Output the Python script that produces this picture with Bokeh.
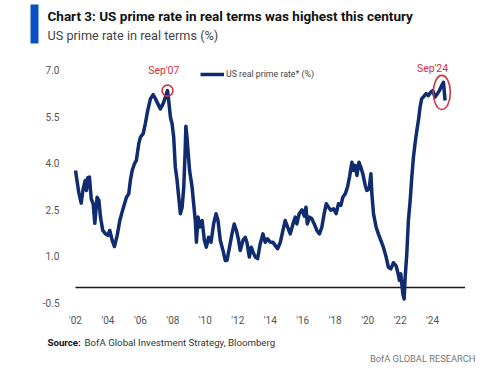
from bokeh.plotting import figure
from bokeh.layouts import column
from bokeh.models import (Label, Legend, LegendItem, FixedTicker, ColumnDataSource, Range1d)
from bokeh.core.properties import value
from bokeh.embed import file_html
from bokeh.resources import INLINE

# ---------------- data ----------------
years = [
    2002.00, 2002.20, 2002.35, 2002.47, 2002.60, 2002.68, 2002.76, 2002.86, 2002.97,
    2003.09, 2003.19, 2003.33, 2003.44, 2003.54, 2003.68, 2003.85, 2003.99,
    2004.11, 2004.26, 2004.40, 2004.57, 2004.73, 2004.87,
    2005.02, 2005.14, 2005.28, 2005.38, 2005.49, 2005.63, 2005.75, 2005.90,
    2006.00, 2006.17, 2006.30, 2006.45, 2006.62, 2006.78, 2006.92,
    2007.07, 2007.23, 2007.40, 2007.54, 2007.67, 2007.74, 2007.85, 2007.95,
    2008.05, 2008.15, 2008.26, 2008.36, 2008.46, 2008.57, 2008.67, 2008.75, 2008.80, 2008.87, 2008.93,
    2009.03, 2009.18, 2009.28, 2009.38, 2009.45, 2009.55, 2009.65, 2009.80, 2009.94,
    2010.06, 2010.20, 2010.35, 2010.51, 2010.66, 2010.78, 2010.92,
    2011.09, 2011.23, 2011.33, 2011.49, 2011.64, 2011.78, 2011.91,
    2012.05, 2012.15, 2012.32, 2012.46, 2012.56, 2012.71, 2012.83, 2012.94,
    2013.08, 2013.22, 2013.38, 2013.55, 2013.69, 2013.83,
    2014.00, 2014.16, 2014.31, 2014.45, 2014.62, 2014.78, 2014.92,
    2015.07, 2015.23, 2015.40, 2015.54, 2015.64, 2015.78, 2015.95,
    2016.10, 2016.20, 2016.28, 2016.42, 2016.56, 2016.71, 2016.87,
    2017.03, 2017.18, 2017.32, 2017.45, 2017.59, 2017.73, 2017.90,
    2018.06, 2018.20, 2018.35, 2018.47, 2018.62, 2018.76, 2018.88,
    2019.03, 2019.13, 2019.23, 2019.34, 2019.46, 2019.58, 2019.70, 2019.85, 2019.95,
    2020.09, 2020.20, 2020.26, 2020.36, 2020.52, 2020.66, 2020.81, 2020.97,
    2021.14, 2021.28, 2021.43, 2021.59, 2021.75, 2021.85, 2021.96,
    2022.04, 2022.17, 2022.25, 2022.31, 2022.41, 2022.51, 2022.62, 2022.72, 2022.82, 2022.92,
    2023.03, 2023.13, 2023.23, 2023.33, 2023.43, 2023.60, 2023.74, 2023.89,
    2024.01, 2024.15, 2024.30, 2024.42, 2024.57, 2024.67, 2024.77,
]
real_prime_rate = [
    3.77, 3.07, 2.72, 3.18, 3.45, 3.13, 3.54, 3.56, 2.86,
    2.70, 2.07, 2.91, 2.81, 2.27, 1.84, 1.73, 1.68,
    1.84, 1.52, 1.32, 1.68, 2.16, 2.43,
    2.70, 2.91, 3.02, 3.45, 3.77, 3.99, 4.10, 4.64,
    4.85, 4.96, 5.28, 5.71, 6.09, 6.22, 6.09,
    5.93, 5.76, 5.93, 6.14, 6.35, 6.03, 5.49, 5.28,
    4.85, 3.88, 3.45, 2.91, 2.38, 2.59, 3.24, 4.31, 5.20, 4.85, 4.42,
    3.77, 3.24, 2.70, 2.16, 1.46, 2.27, 1.95, 2.16, 1.52,
    1.30, 1.62, 1.46, 2.05, 2.38, 2.16, 1.52,
    1.19, 0.87, 0.87, 1.30, 1.73, 2.05, 1.84,
    1.52, 1.19, 1.52, 1.62, 1.46, 0.98, 1.30, 1.14,
    0.98, 0.93, 1.41, 1.73, 1.46, 1.57,
    1.46, 1.46, 1.35, 1.25, 1.46, 1.84, 2.16,
    1.95, 1.73, 2.05, 2.27, 2.05, 2.38, 2.50,
    2.30, 2.59, 2.05, 2.27, 2.22, 2.05, 1.84,
    1.73, 1.95, 2.38, 2.70, 2.59, 2.49, 2.54,
    2.38, 2.70, 2.65, 2.91, 3.02, 3.24, 3.56,
    4.04, 3.77, 3.94, 3.61, 4.04, 3.88, 3.67, 3.29, 3.13,
    3.18, 3.67, 3.02, 2.38, 1.95, 1.73, 1.52, 1.30,
    0.98, 0.65, 0.60, 0.80, 0.70, 0.50, 0.23,
    0.44, -0.21, -0.37, 0.33, 1.08, 2.16, 2.81, 3.56, 4.20, 4.64,
    5.06, 5.39, 5.82, 6.09, 6.14, 6.25, 6.19, 6.30,
    6.35, 6.14, 6.25, 6.35, 6.52, 6.62, 6.03,
]

x_tick_values = [2002, 2004, 2006, 2008, 2010, 2012, 2014, 2016, 2018, 2020, 2022, 2024]
x_tick_labels = ["'02", "'04", "'06", "'08", "'10", "'12", "'14", "'16", "'18", "'20", "'22", "'24"]
y_tick_values = [-0.5, 1.0, 2.5, 4.0, 5.5, 7.0]
y_tick_labels = ["-0.5", "1.0", "2.5", "4.0", "5.5", "7.0"]

highlight_2007_year = 2007.67   # Sep'07
highlight_2024_year = 2024.67   # Sep'24
zero_line_end = 2026.0

title_text = "Chart 3: US prime rate in real terms was highest this century"
subtitle_text = "US prime rate in real terms (%)"
legend_text = "US real prime rate* (%)"
source_bold = "Source:"
source_text = "BofA Global Investment Strategy, Bloomberg"
brand_text = "BofA GLOBAL RESEARCH"

# ---------------- styles ----------------
NAVY = "#0f2c70"
RED = "#d3323a"
GREY = "#555555"
FONT = "Roboto"
W = 500


def blank_panel(h):
    f = figure(width=W, height=h, output_backend="svg", toolbar_location=None,
               x_range=Range1d(0, W), y_range=Range1d(h, 0),
               x_axis_type=None, y_axis_type=None, min_border=0)
    f.outline_line_color = None
    f.xgrid.visible = False
    f.ygrid.visible = False
    f.frame_align = False
    return f


# ---------------- header ----------------
TOP_H = 52
head = blank_panel(TOP_H)
head.quad(left=[30], right=[38], top=[4], bottom=[43], fill_color="#0a50c4", line_color=None)
head.text(x=[47], y=[15], text=[title_text], text_baseline="middle",
          text_font=value(FONT), text_font_style="bold", text_font_size="13.5px",
          text_color="#111111")
head.text(x=[47], y=[35], text=[subtitle_text], text_baseline="middle",
          text_font=value(FONT), text_font_size="12.7px", text_color="#444444")

# ---------------- main chart ----------------
MAIN_H = 278
p = figure(width=W, height=MAIN_H, output_backend="svg", toolbar_location=None,
           x_range=Range1d(2001.815, 2026.09), y_range=Range1d(-0.516, 7.32),
           min_border_left=72, min_border_right=34, min_border_top=8, min_border_bottom=27)
p.outline_line_color = None
p.xgrid.visible = False
p.ygrid.visible = False
p.frame_align = False

for ax in (p.xaxis[0], p.yaxis[0]):
    ax.axis_line_color = None
    ax.major_tick_line_color = None
    ax.minor_tick_line_color = None
    ax.major_label_text_font = FONT
    ax.major_label_text_font_size = "10px"
    ax.major_label_text_color = GREY

p.xaxis.ticker = FixedTicker(ticks=x_tick_values)
p.xaxis.major_label_overrides = dict(zip(x_tick_values, x_tick_labels))
p.xaxis.major_label_standoff = 5
p.yaxis.ticker = FixedTicker(ticks=y_tick_values)
p.yaxis.major_label_overrides = dict(zip(y_tick_values, y_tick_labels))
p.yaxis.major_label_standoff = 7

p.segment(x0=[years[0]], y0=[0], x1=[zero_line_end], y1=[0], line_color="#1a1a1a", line_width=1.5)

src = ColumnDataSource(dict(x=years, y=real_prime_rate))
r = p.line("x", "y", source=src, line_color=NAVY, line_width=3.5, line_join="round")

i07 = years.index(highlight_2007_year)
i24 = years.index(highlight_2024_year)
p.scatter([years[i07]], [real_prime_rate[i07]], size=11, fill_alpha=0,
          line_color=RED, line_width=1.6)
p.ellipse(x=[years[i24] - 0.1], y=[real_prime_rate[i24] - 0.33], width=1.05, height=1.1,
          fill_alpha=0, line_color=RED, line_width=1.6)
p.add_layout(Label(x=years[i07] - 0.23, y=real_prime_rate[i07] + 0.65, text="Sep'07",
                   text_align="center", text_baseline="middle", text_color=RED,
                   text_font=FONT, text_font_size="10.5px"))
p.add_layout(Label(x=years[i24] - 0.67, y=real_prime_rate[i24] + 0.43, text="Sep'24",
                   text_align="center", text_baseline="middle", text_color=RED,
                   text_font=FONT, text_font_size="10.5px"))

legend = Legend(items=[LegendItem(label=legend_text, renderers=[r])],
                location=(128, 223), border_line_color=None, background_fill_alpha=0,
                padding=0, margin=0, glyph_width=24, glyph_height=12, label_standoff=2,
                label_text_font=FONT, label_text_font_size="8.8px", label_text_color="#444444",
                label_height=12)
p.add_layout(legend)

# ---------------- footer ----------------
FOOT_H = 372 - TOP_H - MAIN_H
foot = blank_panel(FOOT_H)
foot.text(x=[47], y=[12], text=[source_bold], text_baseline="middle",
          text_font=value(FONT), text_font_style="bold", text_font_size="9.7px",
          text_color="#111111")
foot.text(x=[84], y=[12], text=[source_text], text_baseline="middle",
          text_font=value(FONT), text_font_size="9.7px", text_color="#333333")
foot.text(x=[475], y=[28], text=[brand_text], text_align="right", text_baseline="middle",
          text_font=value(FONT), text_font_size="9.3px", text_color="#777777")

layout = column(head, p, foot, spacing=0)
open("out.html", "w").write(file_html(layout, INLINE))
